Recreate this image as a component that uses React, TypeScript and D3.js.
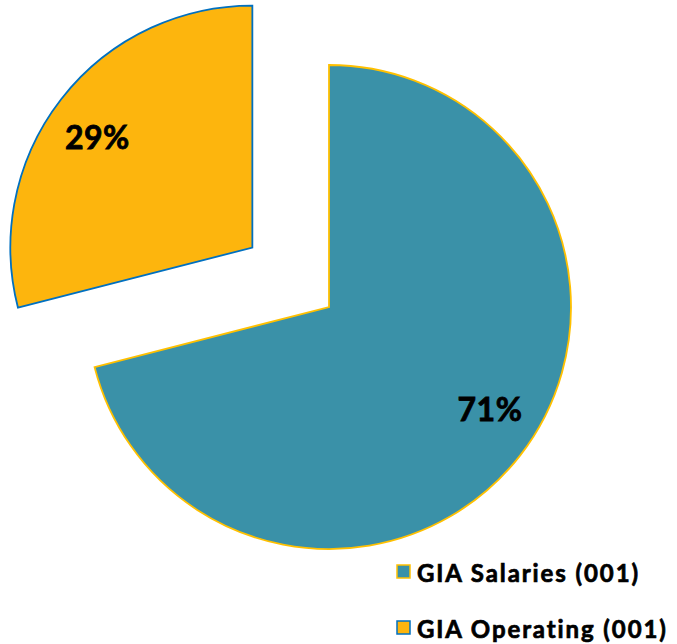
import React from "react";
import * as d3 from "d3";

const categories = ["GIA Salaries (001)", "GIA Operating (001)"];
const values = [71, 29];
const labels = ["71%", "29%"];
const fills = ["#3A91A8", "#FDB50D"];
const strokes = ["#FFC000", "#0070C0"];
const explode = [0, 97];

export default function App() {
  const width = 677;
  const height = 644;
  const cx = 329;
  const cy = 307;
  const r = 242;
  const pie = d3.pie<number>().sort(null).value((d) => d);
  const arcs = pie(values);
  const arc = d3.arc<d3.PieArcDatum<number>>().innerRadius(0).outerRadius(r);
  const font = "Lato, 'Open Sans', sans-serif";
  return (
    <svg width={width} height={height} style={{ position: "absolute", left: 0, top: 0 }}>
      {arcs.map((a, i) => {
        const mid = (a.startAngle + a.endAngle) / 2;
        const dx = Math.sin(mid) * explode[i];
        const dy = -Math.cos(mid) * explode[i];
        return (
          <g key={i} transform={`translate(${cx + dx},${cy + dy})`}>
            <path d={arc(a) || ""} fill={fills[i]} stroke={strokes[i]} strokeWidth={1.8} />
            <text
              x={i === 0 ? 161 : -155}
              y={i === 0 ? 101 : -111}
              textAnchor="middle"
              dominantBaseline="central"
              fontFamily={font}
              fontWeight={700}
              fontSize={32}
              letterSpacing={0.5}
              stroke="#000"
              strokeWidth={0.8}
              fill="#000"
            >
              {labels[i]}
            </text>
          </g>
        );
      })}
      {categories.map((c, i) => (
        <g key={c} transform={`translate(397,${572 + i * 56})`}>
          <rect x={0} y={-7} width={13} height={13} fill={fills[i]} stroke={strokes[i]} strokeWidth={1.5} />
          <text
            x={20}
            y={0}
            dominantBaseline="central"
            fontFamily={font}
            fontWeight={700}
            fontSize={24}
            letterSpacing={1.9}
            stroke="#000"
            strokeWidth={0.7}
            fill="#000"
          >
            {c}
          </text>
        </g>
      ))}
    </svg>
  );
}
